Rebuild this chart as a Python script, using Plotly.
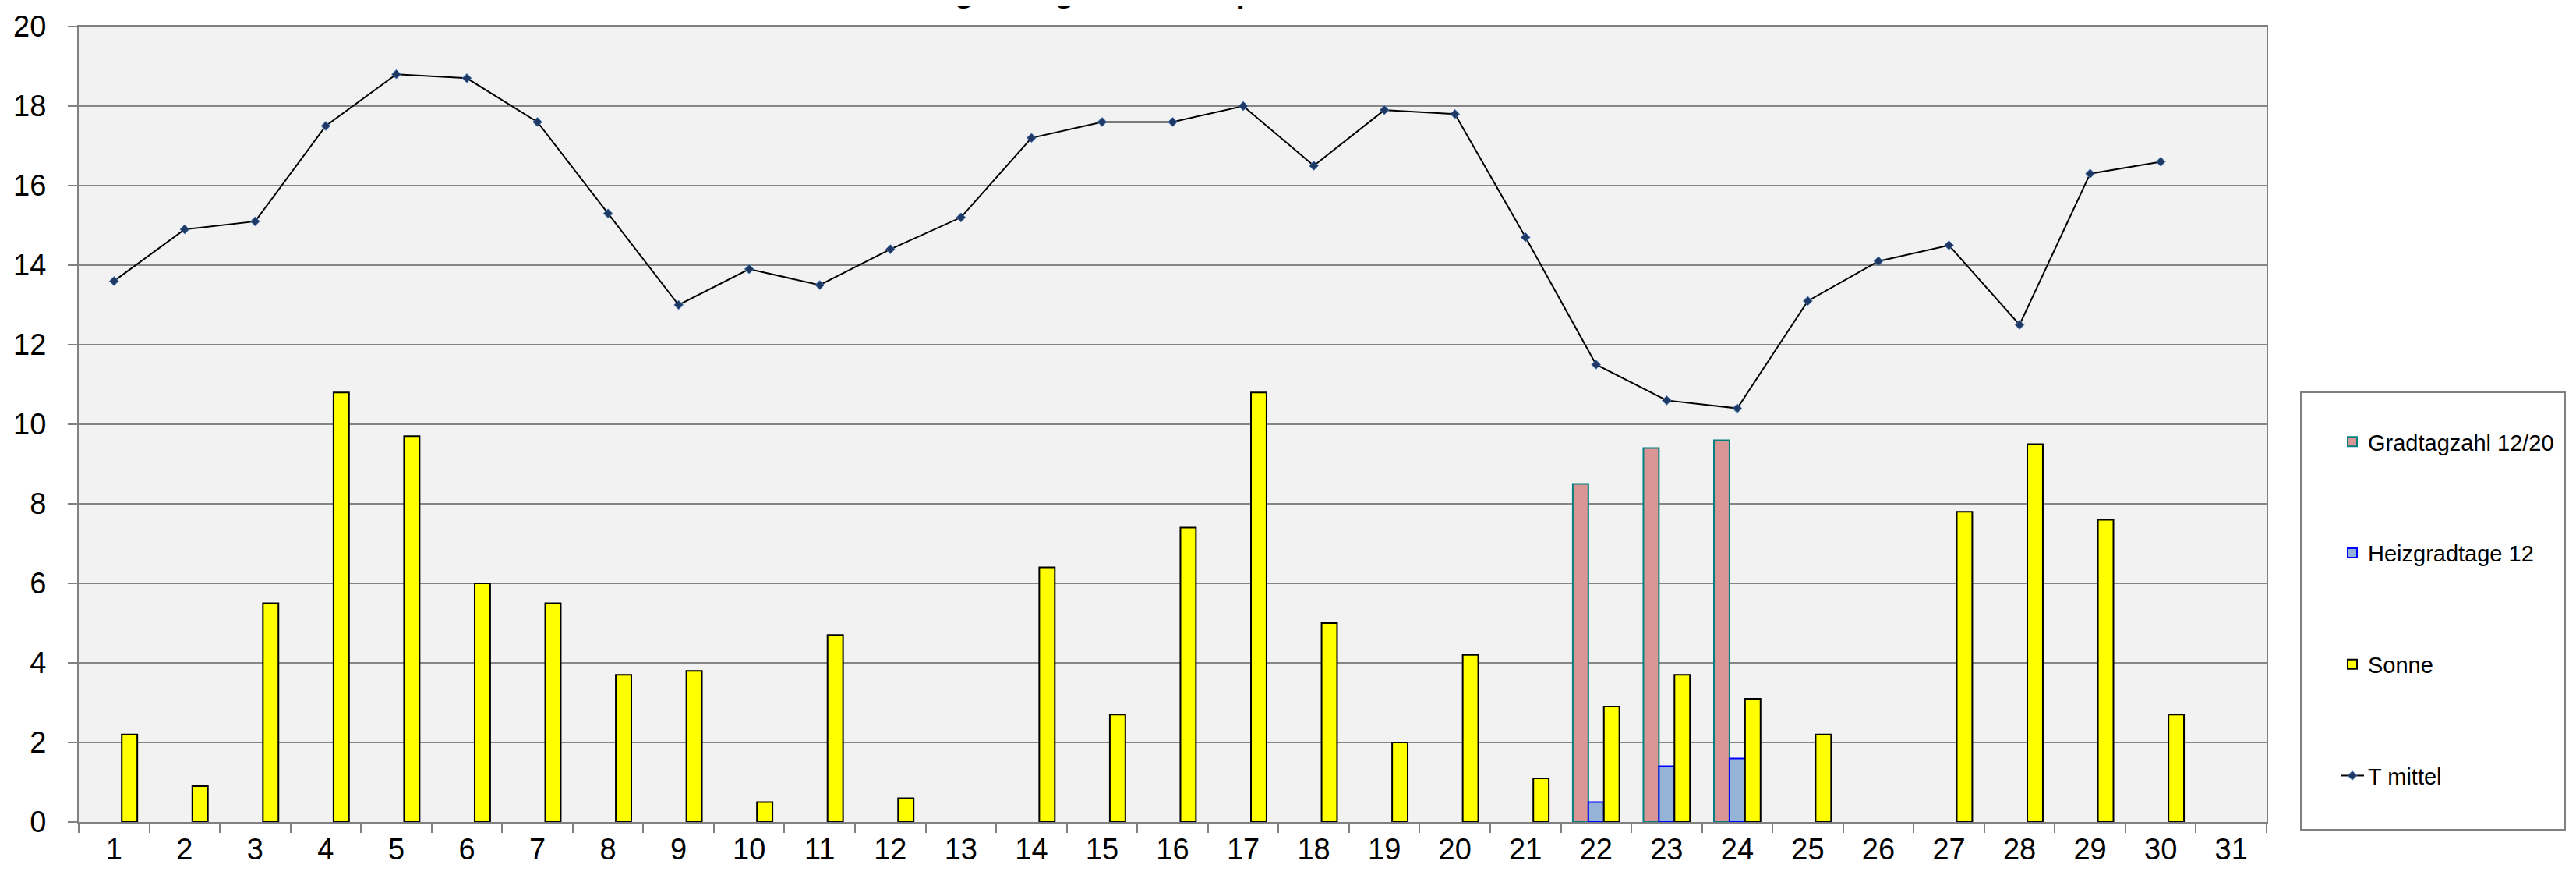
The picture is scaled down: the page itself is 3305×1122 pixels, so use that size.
import plotly.graph_objects as go

days = [str(d) for d in range(1, 32)]
gradtagzahl = [None]*21 + [8.5, 9.4, 9.6] + [None]*7
heizgradtage = [None]*21 + [0.5, 1.4, 1.6] + [None]*7
sonne = [2.2, 0.9, 5.5, 10.8, 9.7, 6.0, 5.5, 3.7, 3.8, 0.5,
         4.7, 0.6, 0, 6.4, 2.7, 7.4, 10.8, 5.0, 2.0, 4.2,
         1.1, 2.9, 3.7, 3.1, 2.2, 0, 7.8, 9.5, 7.6, 2.7, 0]
t_mittel = [13.6, 14.9, 15.1, 17.5, 18.8, 18.7, 17.6, 15.3, 13.0, 13.9,
            13.5, 14.4, 15.2, 17.2, 17.6, 17.6, 18.0, 16.5, 17.9, 17.8,
            14.7, 11.5, 10.6, 10.4, 13.1, 14.1, 14.5, 12.5, 16.3, 16.6, None]
y_ticks = list(range(0, 21, 2))
title_text = "Heizgradtage und Temperatur"

W, H = 3305, 1122
L, R, T, B = 93, 2900, 26, 1046
pw, ph = R - L, B - T

def px_x(x):
    return (x - L) / pw

def px_y(y):
    return (B - y) / ph

FONT = "Arial, Liberation Sans, sans-serif"

fig = go.Figure()
fig.add_trace(go.Bar(x=days, y=gradtagzahl, name="Gradtagzahl 12/20",
                     marker=dict(color="#D99694", line=dict(color="#008080", width=2)),
                     legendgroup="a"))
fig.add_trace(go.Bar(x=days, y=heizgradtage, name="Heizgradtage 12",
                     marker=dict(color="#95B3D7", line=dict(color="#0000FF", width=2)),
                     legendgroup="b"))
fig.add_trace(go.Bar(x=days, y=sonne, name="Sonne",
                     marker=dict(color="#FFFF00",
                                 line=dict(color="#000000",
                                           width=[0 if v == 0 else 2 for v in sonne])),
                     legendgroup="c"))
fig.add_trace(go.Scatter(x=days, y=t_mittel, name="T mittel", mode="lines+markers",
                         line=dict(color="#000000", width=2),
                         marker=dict(symbol="diamond", size=9, color="#1F3864",
                                     line=dict(color="#4F81BD", width=1)),
                         legendgroup="d"))

fig.update_layout(
    width=W, height=H,
    margin=dict(l=L, r=W - R, t=T, b=H - B, autoexpand=False),
    paper_bgcolor="#FFFFFF",
    plot_bgcolor="#F2F2F2",
    barmode="group", bargap=0.34, bargroupgap=0,
    font=dict(family=FONT, color="#000000"),
    showlegend=True,
    legend=dict(x=px_x(2990), y=px_y(533), xanchor="left", yanchor="top",
                bgcolor="rgba(0,0,0,0)", borderwidth=0,
                font=dict(size=29, family=FONT), tracegroupgap=102,
                traceorder="grouped"),
    xaxis=dict(type="category", tickson="boundaries", ticks="outside", ticklen=12,
               tickcolor="#808080", tickwidth=2,
               showline=True, linecolor="#808080", linewidth=2, mirror=True,
               showgrid=False, tickfont=dict(size=38, family=FONT),
               range=[-0.5, 30.5]),
    yaxis=dict(range=[0, 20], tickvals=y_ticks, ticks="outside", ticklen=12,
               tickcolor="#808080", tickwidth=2,
               showline=True, linecolor="#808080", linewidth=2, mirror=True,
               showgrid=True, gridcolor="#868686", gridwidth=2,
               tickfont=dict(size=38, family=FONT), ticklabelstandoff=20,
               zeroline=False),
)

# legend frame
fig.add_shape(type="rect", xref="paper", yref="paper",
              x0=px_x(2944), x1=px_x(3283), y0=px_y(1056), y1=px_y(495),
              line=dict(color="#808080", width=2), fillcolor="#FFFFFF", layer="below")
# chart area border (right edge)
fig.add_shape(type="line", xref="paper", yref="paper",
              x0=px_x(3292), x1=px_x(3292), y0=px_y(H + 5), y1=px_y(-5),
              line=dict(color="#808080", width=3))

# title (mostly cut off at the top of the picture)
fig.add_annotation(text="<b>" + title_text + "</b>", xref="paper", yref="paper",
                   x=px_x(1128), y=px_y(5), xanchor="left", yanchor="bottom",
                   showarrow=False, font=dict(size=42, family=FONT, color="#000000"))

fig.write_html("out.html")
